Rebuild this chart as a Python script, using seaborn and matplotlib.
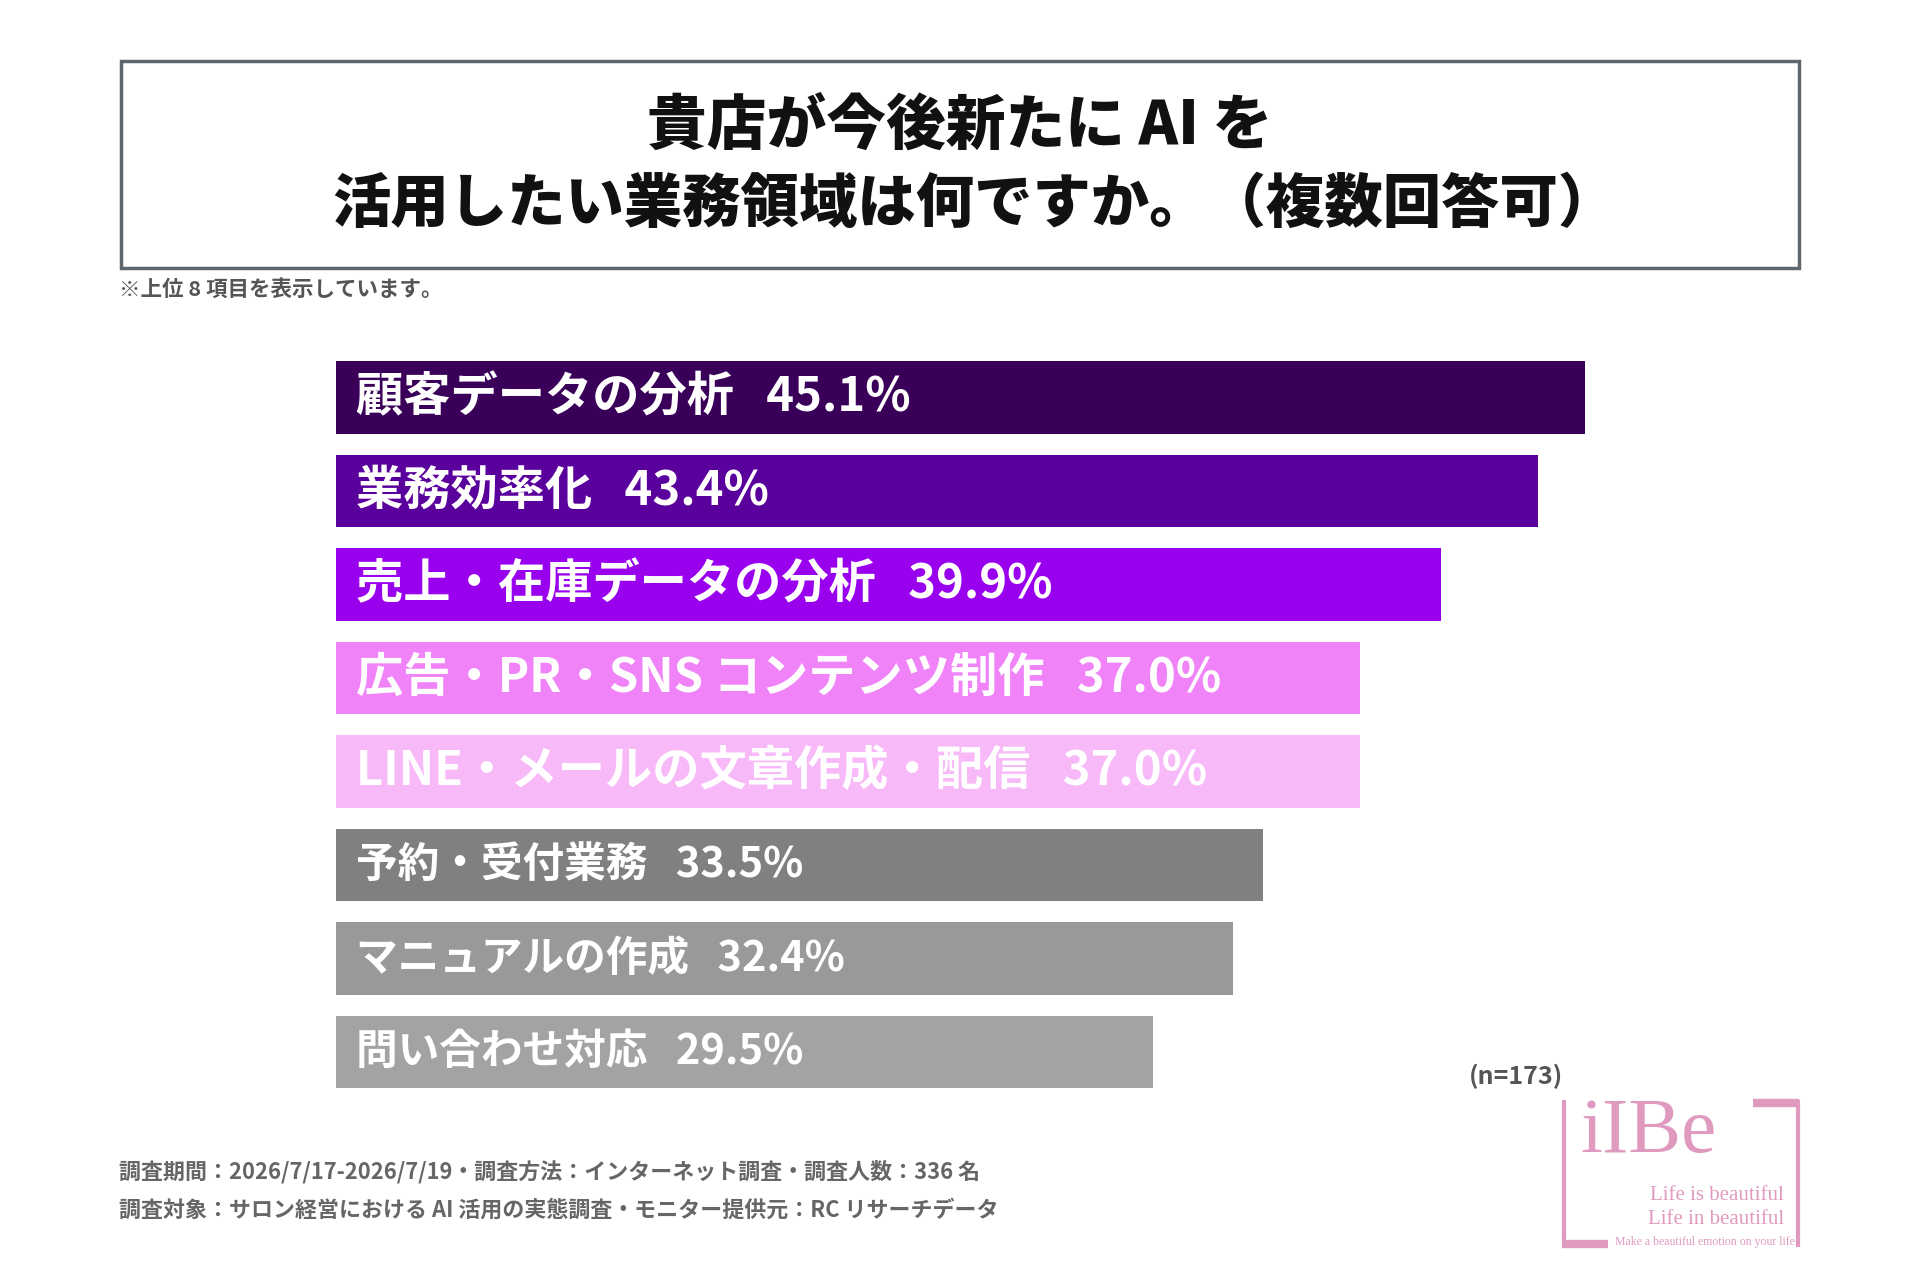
import matplotlib
matplotlib.use("Agg")
import matplotlib.pyplot as plt
import seaborn as sns
import pandas as pd
from matplotlib.patches import Rectangle
from matplotlib.lines import Line2D

categories = ["顧客データの分析", "業務効率化", "売上・在庫データの分析", "広告・PR・SNS コンテンツ制作",
              "LINE・メールの文章作成・配信", "予約・受付業務", "マニュアルの作成", "問い合わせ対応"]
values = [45.1, 43.4, 39.9, 37.0, 37.0, 33.5, 32.4, 29.5]
colors = ["#3a0059", "#5a009c", "#9900ee", "#f083f8", "#f8b9f8", "#808080", "#999999", "#a3a3a3"]
label_sizes = [34, 34, 34, 34, 34, 30, 30, 30]
title_lines = ["貴店が今後新たに AI を", "活用したい業務領域は何ですか。（複数回答可）"]
note = "※上位 8 項目を表示しています。"
sample = "(n=173)"
footer = ["調査期間：2026/7/17-2026/7/19・調査方法：インターネット調査・調査人数：336 名",
          "調査対象：サロン経営における AI 活用の実態調査・モニター提供元：RC リサーチデータ"]

sns.set_theme(style="white")
plt.rcParams['font.family'] = ['Noto Sans CJK JP', 'DejaVu Sans']

W, H = 1920, 1280
fig = plt.figure(figsize=(19.2, 12.8), dpi=100)
fig.patch.set_facecolor("white")

def fx(px):
    return px / W

def fy(py):
    return 1 - py / H

# Title box
fig.patches.append(Rectangle((fx(121), fy(268)), fx(1799) - fx(121), fy(61) - fy(268),
                             transform=fig.transFigure, fill=False, edgecolor="#5f676e",
                             linewidth=2.5))
fig.text(fx(960), fy(126), title_lines[0], ha="center", va="center", fontsize=43,
         fontweight="black", color="#111111")
fig.text(fx(974), fy(205), title_lines[1], ha="center", va="center", fontsize=42,
         fontweight="black", color="#111111")
fig.text(fx(119), fy(289), note, ha="left", va="center", fontsize=15.5,
         fontweight="bold", color="#555555")

# Bars
df = pd.DataFrame({"category": categories, "value": values})
ax = fig.add_axes([fx(335.5), 1 - 1099 / H, fx(1385), 748.5 / H])
sns.barplot(data=df, x="value", y="category", hue="category", palette=colors,
            order=categories, hue_order=categories, width=0.775, saturation=1,
            legend=False, ax=ax, edgecolor="none")
ax.set_xlim(0, 50)
ax.set_ylim(7.5, -0.5)
ax.set_xlabel("")
ax.set_ylabel("")
ax.set_xticks([])
ax.set_yticks([])
for s in ax.spines.values():
    s.set_visible(False)
ax.set_facecolor("none")
for i, (c, v, fs) in enumerate(zip(categories, values, label_sizes)):
    ax.text(0.75, i, f"{c}   {v:.1f}%", ha="left", va="center", fontsize=fs,
            fontweight="bold", color="white")

fig.text(fx(1516), fy(1076), sample, ha="center", va="center", fontsize=18,
         fontweight="bold", color="#555555")

fig.text(fx(119), fy(1172), footer[0], ha="left", va="center", fontsize=15.8,
         fontweight="bold", color="#666666")
fig.text(fx(119), fy(1210), footer[1], ha="left", va="center", fontsize=15.8,
         fontweight="bold", color="#666666")

# Logo
pink = "#e09ac0"
def line(x0, y0, x1, y1, lw):
    fig.lines.append(Line2D([fx(x0), fx(x1)], [fy(y0), fy(y1)], transform=fig.transFigure,
                            color=pink, linewidth=lw, solid_capstyle="butt"))
line(1563.5, 1100, 1563.5, 1247, 3)
line(1562, 1244, 1608, 1244, 6)
line(1753, 1103, 1799, 1103, 6)
line(1797.5, 1100, 1797.5, 1247, 3)
fig.text(fx(1580), fy(1133), "iIBe", ha="left", va="center", fontsize=57,
         family="Liberation Serif", color=pink)
fig.text(fx(1784), fy(1195), "Life is beautiful", ha="right", va="center", fontsize=15,
         family="Liberation Serif", color=pink)
fig.text(fx(1784), fy(1220), "Life in beautiful", ha="right", va="center", fontsize=15,
         family="Liberation Serif", color=pink)
fig.text(fx(1799), fy(1242), "Make a beautiful emotion on your life!", ha="right", va="center",
         fontsize=8.5, family="Liberation Serif", color=pink)

fig.savefig("out.png", dpi=100, facecolor="white")
